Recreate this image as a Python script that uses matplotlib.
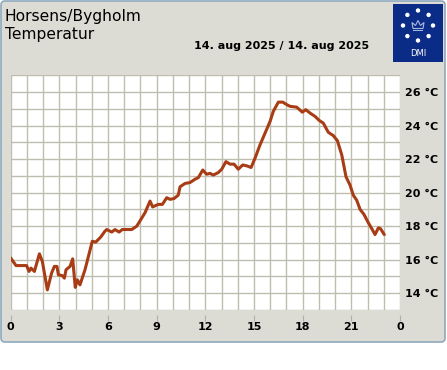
import matplotlib
matplotlib.use('Agg')
import matplotlib.pyplot as plt
from matplotlib.patches import FancyBboxPatch, Rectangle, Circle, Polygon
import numpy as np

# data (hour of day, temperature in C)
hours = [0.0, 0.33, 0.98, 1.13, 1.25, 1.46, 1.77, 1.95, 2.26, 2.52, 2.69, 2.85, 2.94, 3.18,
         3.31, 3.41, 3.66, 3.82, 3.98, 4.11, 4.27, 4.58, 5.03, 5.24, 5.55, 5.81, 5.92, 6.23,
         6.43, 6.68, 6.88, 7.46, 7.77, 8.28, 8.59, 8.75, 9.10, 9.35, 9.62, 9.82, 10.07, 10.33,
         10.44, 10.75, 11.05, 11.36, 11.57, 11.84, 12.08, 12.29, 12.49, 12.80, 13.01, 13.27,
         13.52, 13.77, 14.03, 14.30, 14.55, 14.82, 15.06, 15.37, 15.68, 15.99, 16.19, 16.50,
         16.77, 17.02, 17.22, 17.63, 17.98, 18.19, 18.45, 18.76, 19.03, 19.27, 19.58, 19.89,
         20.14, 20.41, 20.67, 20.92, 21.12, 21.33, 21.54, 21.78, 22.05, 22.26, 22.46, 22.67,
         22.80, 23.03]
temps = [16.1, 15.65, 15.65, 15.3, 15.5, 15.3, 16.35, 15.9, 14.2, 15.2, 15.6, 15.6, 15.1, 15.05,
         14.9, 15.4, 15.6, 16.05, 14.35, 14.8, 14.5, 15.4, 17.1, 17.05, 17.35, 17.7, 17.8, 17.65,
         17.8, 17.65, 17.8, 17.8, 18.0, 18.8, 19.5, 19.15, 19.3, 19.3, 19.7, 19.6, 19.65, 19.85,
         20.35, 20.55, 20.6, 20.8, 20.9, 21.35, 21.1, 21.15, 21.05, 21.2, 21.4, 21.85,
         21.7, 21.7, 21.4, 21.65, 21.6, 21.5, 22.05, 22.85, 23.55, 24.25, 24.85, 25.4,
         25.4, 25.25, 25.15, 25.1, 24.8, 24.95, 24.75, 24.55, 24.3, 24.15, 23.6, 23.4,
         23.1, 22.25, 20.95, 20.45, 19.85, 19.55, 19.0, 18.7, 18.2, 17.85, 17.5, 17.9,
         17.85, 17.5]

x_ticks = [0, 3, 6, 9, 12, 15, 18, 21, 24]
x_labels = ['0', '3', '6', '9', '12', '15', '18', '21', '0']
y_ticks = [14, 16, 18, 20, 22, 24, 26]
y_labels = ['%d °C' % t for t in y_ticks]

station = 'Horsens/Bygholm'
param = 'Temperatur'
period = '14. aug 2025 / 14. aug 2025'

W, H = 447, 370
panel_col = '#dcdcd4'
grid_col = '#bebdb0'
line_col = '#a83c14'

fig = plt.figure(figsize=(W / 100, H / 100), dpi=100)
fig.patch.set_facecolor('white')

# background layer in pixel coords
bg = fig.add_axes([0, 0, 1, 1])
bg.set_xlim(0, W)
bg.set_ylim(H, 0)
bg.axis('off')
bg.add_patch(FancyBboxPatch((1, 1), 444, 341, boxstyle='round,pad=0,rounding_size=4',
                            facecolor=panel_col, edgecolor='#8ea9bf', linewidth=1.2))

bg.text(5, 16, station, fontsize=11.2, va='center', ha='left', color='black')
bg.text(5, 35, param, fontsize=11.2, va='center', ha='left', color='black')
bg.text(369, 46, period, fontsize=8, fontweight='bold', va='center', ha='right')

# DMI logo
bg.add_patch(Rectangle((393, 4), 50, 58, facecolor='#0b2c86', edgecolor='none'))
cx, cy = 418, 25.5
for a in np.arange(8) * np.pi / 4:
    bg.add_patch(Circle((cx + 15 * np.cos(a), cy + 15 * np.sin(a)), 2.2,
                        facecolor='white', edgecolor='none'))
crown = [(cx - 5, cy + 3), (cx - 6, cy - 3), (cx - 2.5, cy), (cx, cy - 5),
         (cx + 2.5, cy), (cx + 6, cy - 3), (cx + 5, cy + 3)]
bg.add_patch(Polygon(crown, closed=True, facecolor='none', edgecolor='#a9b8e2', linewidth=0.8))
bg.add_patch(Rectangle((cx - 5, cy + 4), 10, 1.5, facecolor='#a9b8e2', edgecolor='none'))
bg.text(cx, 54, 'DMI', fontsize=6, color='white', ha='center', va='center')

# plot area
l, r, t, b = 10.7, 400, 75.3, 310
ax = fig.add_axes([l / W, 1 - b / H, (r - l) / W, (b - t) / H])
ax.set_facecolor('white')
for s in ax.spines.values():
    s.set_visible(False)
ax.spines['bottom'].set_position(('outward', 3.6))

ax.plot(hours, temps, color=line_col, linewidth=2.2, solid_capstyle='round', zorder=3)
ax.set_xlim(0, 24)
ax.set_ylim(13, 27)

ax.yaxis.tick_right()
ax.set_xticks(x_ticks)
ax.set_xticklabels(x_labels, fontsize=8, fontweight='bold')
ax.set_xticks(np.arange(0, 25, 1), minor=True)
ax.set_yticks(y_ticks)
ax.set_yticklabels(y_labels, fontsize=8, fontweight='bold')
ax.set_yticks(np.arange(13, 28, 1), minor=True)

ax.grid(which='both', color=grid_col, linewidth=1.0)
ax.tick_params(axis='x', which='major', length=4.3, width=0.8, color='#b0b0a8', pad=0.8)
ax.tick_params(axis='x', which='minor', length=0)
ax.tick_params(axis='y', which='both', length=0, pad=3.5)

fig.savefig('out.png', dpi=100, facecolor='white')
